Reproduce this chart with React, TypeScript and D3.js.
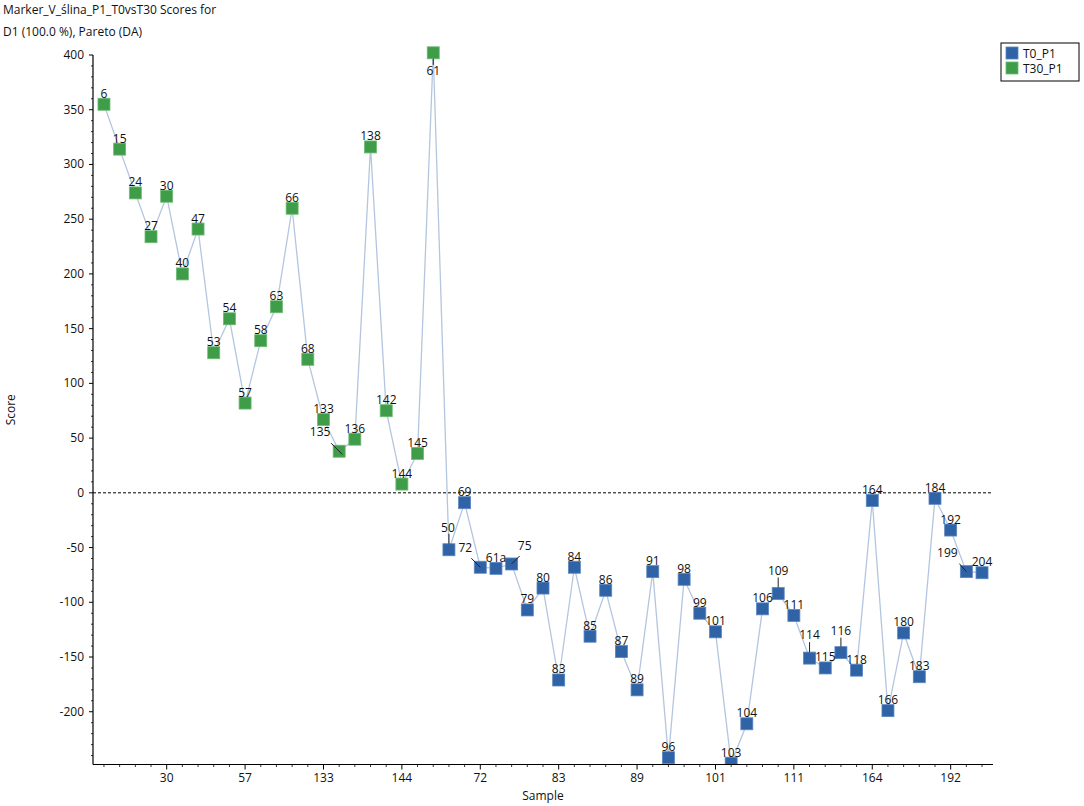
import React from "react";
import * as d3 from "d3";

// T30_P1 group (green), in plotted order
const t30Samples = ["6", "15", "24", "27", "30", "40", "47", "53", "54", "57", "58", "63", "66", "68", "133", "135", "136", "138", "142", "144", "145", "61"];
const t30Scores = [355, 314, 274, 234, 271, 200, 241, 128, 159, 82, 139, 170, 260, 122, 67, 38, 49, 316, 75, 8, 36, 402];

// T0_P1 group (blue), in plotted order
const t0Samples = ["50", "69", "72", "61a", "75", "79", "80", "83", "84", "85", "86", "87", "89", "91", "96", "98", "99", "101", "103", "104", "106", "109", "111", "114", "115", "116", "118", "164", "166", "180", "183", "184", "192", "199", "204"];
const t0Scores = [-52, -9, -68, -69, -65, -107, -87, -171, -68, -131, -89, -145, -180, -72, -242, -79, -110, -127, -247, -211, -106, -92, -112, -151, -160, -146, -162, -7, -199, -128, -168, -5, -34, -72, -73];

const yTicks = [-200, -150, -100, -50, 0, 50, 100, 150, 200, 250, 300, 350, 400];
const titleLines = ["Marker_V_\u015blina_P1_T0vsT30 Scores for", "D1 (100.0 %), Pareto (DA)"];

// label placement tweaks: [dx, dy, leader x1, y1, x2, y2]
const labelNudge: Record<string, number[]> = {
  "61": [0, 22, 0, 6, 0, 12],
  "50": [-1, -18, 0, -16, 0, -6],
  "72": [-15, -15, -9, -9, 0, 0],
  "75": [13, -14, 8, -8, 0, 0],
  "135": [-19, -15, -8, -8, 3, 3],
  "199": [-19, -15, -7, -8, 0, 0],
  "109": [0, -19, 0, -16, 0, -6],
  "114": [0, -19, 0, -16, 0, -6],
  "116": [0, -18, 0, -15, 0, -6],
};

const GREEN = "#3f9c48";
const GREEN_EDGE = "#6cbb74";
const BLUE = "#2f63a6";
const BLUE_EDGE = "#5b86c2";
const FONT = "'Open Sans', 'Noto Sans', sans-serif";

type Pt = { name: string; score: number; group: "T0_P1" | "T30_P1" };

const points: Pt[] = [
  ...t30Samples.map((name, i) => ({ name, score: t30Scores[i], group: "T30_P1" as const })),
  ...t0Samples.map((name, i) => ({ name, score: t0Scores[i], group: "T0_P1" as const })),
];

const App: React.FC = () => {
  const width = 1084;
  const height = 806;
  const left = 93;
  const right = 993;
  const top = 55;
  const bottom = 764.5;

  const x = d3.scalePoint<string>().domain(points.map((p) => p.name)).range([left, right]).padding(0.7);
  const y = d3.scaleLinear().domain([-248.2, 400]).range([bottom, top]);

  const line = d3
    .line<Pt>()
    .x((d) => x(d.name) as number)
    .y((d) => y(d.score));

  const minorY = d3.range(-240, 401, 10).filter((v) => v % 50 !== 0);
  const sq = 12;

  return (
    <svg width={width} height={height} style={{ position: "absolute", left: 0, top: 0, background: "#fff" }} fontFamily={FONT}>
      <defs>
        <clipPath id="plot">
          <rect x={left} y={0} width={right - left + 20} height={bottom} />
        </clipPath>
      </defs>

      {/* title */}
      {titleLines.map((t, i) => (
        <text key={t} x={3} y={14 + i * 22} fontSize={12} fill="#111">
          {t}
        </text>
      ))}

      {/* zero line */}
      <line x1={left} x2={right} y1={y(0)} y2={y(0)} stroke="#000" strokeWidth={1} strokeDasharray="3,2" />

      {/* connecting line */}
      <path d={line(points) ?? ""} fill="none" stroke="#b4c6df" strokeWidth={1.3} clipPath="url(#plot)" />

      {/* markers */}
      <g clipPath="url(#plot)">
        {points.map((p) => (
          <rect
            key={p.name}
            x={(x(p.name) as number) - sq / 2}
            y={y(p.score) - sq / 2}
            width={sq}
            height={sq}
            fill={p.group === "T30_P1" ? GREEN : BLUE}
            stroke={p.group === "T30_P1" ? GREEN_EDGE : BLUE_EDGE}
            strokeWidth={0.8}
          />
        ))}
      </g>

      {/* point labels */}
      {points.map((p) => {
        const cx = x(p.name) as number;
        const cy = y(p.score);
        const n = labelNudge[p.name];
        const dx = n ? n[0] : 0;
        const dy = n ? n[1] : -6.5;
        return (
          <g key={`lab-${p.name}`}>
            {n && <line x1={cx + n[2]} y1={cy + n[3]} x2={cx + n[4]} y2={cy + n[5]} stroke="#222" strokeWidth={1} />}
            <text x={cx + dx} y={cy + dy} textAnchor="middle" fontSize={12} fill="#111">
              {p.name}
            </text>
          </g>
        );
      })}

      {/* y axis */}
      <line x1={left} x2={left} y1={top} y2={bottom} stroke="#000" strokeWidth={1.2} />
      {minorY.map((v) => (
        <line key={`my${v}`} x1={left - 2} x2={left} y1={y(v)} y2={y(v)} stroke="#000" strokeWidth={0.8} />
      ))}
      {yTicks.map((v) => (
        <g key={`y${v}`}>
          <line x1={left - 4} x2={left} y1={y(v)} y2={y(v)} stroke="#000" strokeWidth={1} />
          <text x={left - 9} y={y(v) + 4} textAnchor="end" fontSize={12} fill="#111">
            {v}
          </text>
        </g>
      ))}
      <text transform={`translate(15,${(top + bottom) / 2}) rotate(-90)`} textAnchor="middle" fontSize={12} fill="#111">
        Score
      </text>

      {/* x axis */}
      <line x1={left} x2={right} y1={bottom} y2={bottom} stroke="#000" strokeWidth={1.2} />
      {points.map((p, i) => {
        const px = x(p.name) as number;
        const major = i % 5 === 4;
        return (
          <g key={`x${p.name}`}>
            <line x1={px} x2={px} y1={bottom} y2={bottom + (major ? 5 : 2.5)} stroke="#000" strokeWidth={major ? 1 : 0.8} />
            {major && (
              <text x={px} y={bottom + 17} textAnchor="middle" fontSize={12} fill="#111">
                {p.name}
              </text>
            )}
          </g>
        );
      })}
      <text x={(left + right) / 2} y={800} textAnchor="middle" fontSize={12} fill="#111">
        Sample
      </text>

      {/* legend */}
      <g>
        <rect x={1001} y={43} width={78} height={38} fill="#fff" stroke="#000" strokeWidth={1} />
        {[
          { name: "T0_P1", fill: BLUE, edge: BLUE_EDGE },
          { name: "T30_P1", fill: GREEN, edge: GREEN_EDGE },
        ].map((l, i) => (
          <g key={l.name}>
            <rect x={1006} y={47 + i * 15} width={12} height={12} fill={l.fill} stroke={l.edge} strokeWidth={0.8} />
            <text x={1023} y={57.5 + i * 15} fontSize={12} fill="#111">
              {l.name}
            </text>
          </g>
        ))}
      </g>
    </svg>
  );
};

export default App;
